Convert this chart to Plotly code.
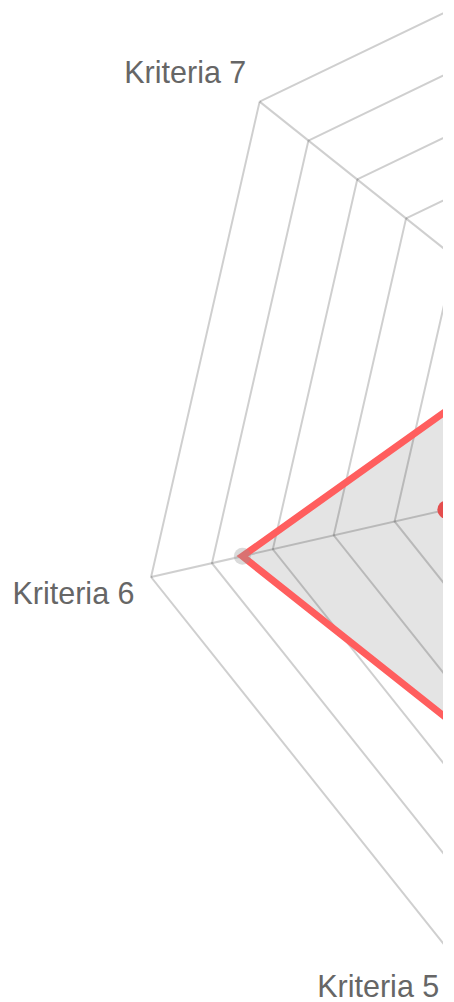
import plotly.graph_objects as go

categories = ["Kriteria 1", "Kriteria 2", "Kriteria 3", "Kriteria 4",
              "Kriteria 5", "Kriteria 6", "Kriteria 7"]
series_a = [5, 6, 5, 4, 6, 7.5, 3]
series_b = [3, 4, 3, 3, 3, 4.15, 2]
radial_ticks = [0, 1, 2, 3, 4, 5, 6, 7, 8, 9]

RED = "#ff5e5e"
GRID = "rgba(0,0,0,0.19)"
R_MAX = radial_ticks[-1]
label_pos = ["top center", "top right", "middle right", "bottom right",
             "bottom left", "bottom left", "top left"]
# a trailing no-break space keeps the lower-left label clear of the right edge
label_text = [c + ("\u00a0" if p == "bottom left" and i == 4 else "")
              for i, (c, p) in enumerate(zip(categories, label_pos))]

# geometry (px): chart radius and label padding
RADIUS = 562
PAD = 17
OUTER = RADIUS + PAD
W, H = 1398, 1324
CX, CY = 699, 662
inset = PAD / (2 * OUTER)
inner_domain = dict(x=[inset, 1 - inset], y=[inset, 1 - inset])

closed_theta = categories + categories[:1]

fig = go.Figure()
# grey area (bottom subplot, below the grid)
fig.add_trace(go.Scatterpolar(
    r=series_a + series_a[:1], theta=closed_theta,
    mode="lines", line=dict(width=0, color="rgba(0,0,0,0)"),
    fill="toself", fillcolor="rgba(120,120,120,0.2)",
    hoverinfo="skip", showlegend=False, subplot="polar",
))
# point labels, on a concentric hidden polar subplot a little larger
fig.add_trace(go.Scatterpolar(
    r=[R_MAX] * len(categories), theta=categories,
    mode="text", text=label_text, textposition=label_pos,
    textfont=dict(family="Liberation Sans, Arial, sans-serif", size=30.5, color="#666666"),
    cliponaxis=False, hoverinfo="skip", showlegend=False, subplot="polar2",
))
# outline + points (top subplot, grid drawn over the grey area)
fig.add_trace(go.Scatterpolar(
    r=series_a + series_a[:1], theta=closed_theta,
    mode="lines+markers",
    line=dict(color=RED, width=7),
    marker=dict(size=17, color="rgba(150,150,150,0.35)", line=dict(width=0)),
    hoverinfo="skip", showlegend=False, subplot="polar3",
))
fig.add_trace(go.Scatterpolar(
    r=series_b + series_b[:1], theta=closed_theta,
    mode="markers",
    marker=dict(size=18, color="#e44e4e", line=dict(width=0)),
    hoverinfo="skip", showlegend=False, subplot="polar3",
))

angular_common = dict(direction="clockwise", rotation=90,
                      categoryorder="array", categoryarray=categories)
hidden_radial = dict(range=[radial_ticks[0], R_MAX], showline=False,
                     showgrid=False, ticks="", showticklabels=False)
hidden_angular = dict(**angular_common, showline=False, showgrid=False,
                      ticks="", showticklabels=False)

fig.update_layout(
    width=W, height=H,
    margin=dict(l=CX - OUTER, r=W - CX - OUTER, t=CY - OUTER, b=H - CY - OUTER),
    paper_bgcolor="white",
    showlegend=False,
    polar=dict(domain=inner_domain, bgcolor="white", gridshape="linear",
               angularaxis=hidden_angular, radialaxis=hidden_radial),
    polar2=dict(domain=dict(x=[0, 1], y=[0, 1]), bgcolor="rgba(0,0,0,0)",
                gridshape="linear",
                angularaxis=hidden_angular, radialaxis=hidden_radial),
    polar3=dict(
        domain=inner_domain,
        bgcolor="rgba(0,0,0,0)",
        gridshape="linear",
        angularaxis=dict(
            **angular_common,
            showline=True, linecolor=GRID, linewidth=2,
            showgrid=True, gridcolor=GRID, gridwidth=2,
            ticks="", showticklabels=False,
        ),
        radialaxis=dict(
            range=[radial_ticks[0], R_MAX],
            tickvals=radial_ticks,
            showticklabels=False, ticks="",
            showline=False,
            showgrid=True, gridcolor=GRID, gridwidth=2,
        ),
    ),
)

post = """
var gd = document.getElementById('{plot_id}');
document.documentElement.style.overflow = 'hidden';
document.body.style.margin = '0';
document.body.style.overflow = 'hidden';
document.body.style.background = 'white';
var wrap = gd.parentElement;
wrap.style.width = '443px';
wrap.style.height = '1002px';
wrap.style.overflow = 'hidden';
gd.style.position = 'relative';
gd.style.top = '-210px';
"""
fig.write_html("out.html", post_script=post, config={"displayModeBar": False})
